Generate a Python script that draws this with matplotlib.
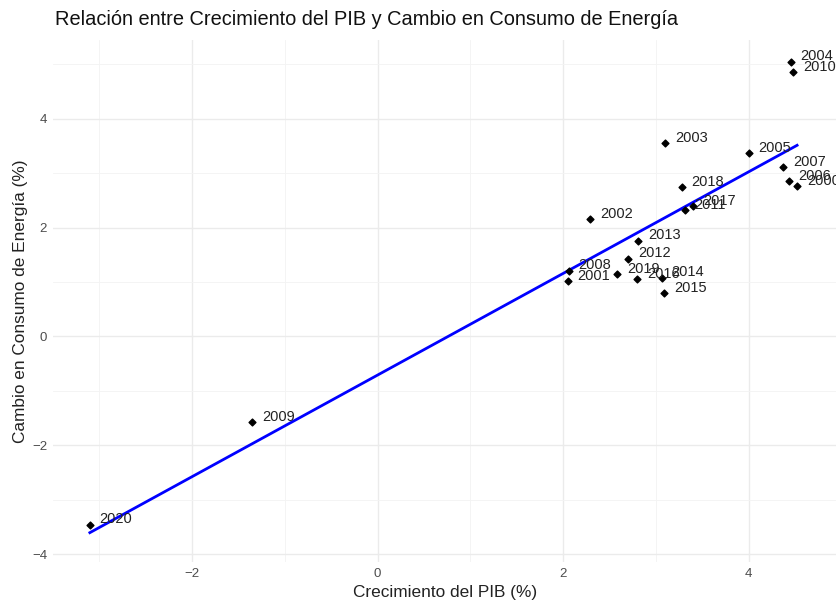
import numpy as np
import matplotlib

matplotlib.use("Agg")
import matplotlib.pyplot as plt
from matplotlib.ticker import MultipleLocator

# datos
years = ["2000", "2001", "2002", "2003", "2004", "2005", "2006", "2007",
         "2008", "2009", "2010", "2011", "2012", "2013", "2014", "2015",
         "2016", "2017", "2018", "2019", "2020"]
pib = [4.52, 2.05, 2.29, 3.10, 4.45, 4.00, 4.43, 4.37,
       2.06, -1.35, 4.48, 3.31, 2.70, 2.81, 3.06, 3.09,
       2.80, 3.40, 3.28, 2.58, -3.10]
energia = [2.76, 1.01, 2.15, 3.55, 5.04, 3.36, 2.85, 3.11,
           1.21, -1.58, 4.85, 2.32, 1.43, 1.76, 1.08, 0.79,
           1.05, 2.39, 2.74, 1.14, -3.46]

plt.rcParams["font.family"] = ["Liberation Sans", "DejaVu Sans"]

fig = plt.figure(figsize=(8.37, 6.02), dpi=100)
ax = fig.add_axes([0.063, 0.066, 0.937, 0.868])

x = np.array(pib)
y = np.array(energia)

# linea de regresion (lm)
m, b = np.polyfit(x, y, 1)
xs = np.array([x.min(), x.max()])
ax.plot(xs, m * xs + b, color="#0000FF", lw=2.0, zorder=2)

ax.scatter(x, y, marker="D", s=12, color="black", zorder=3)
for xi, yi, lab in zip(x, y, years):
    ax.annotate(lab, (xi, yi), xytext=(7, 4), textcoords="offset points",
                fontsize=10.5, color="#222222", va="center", ha="left",
                annotation_clip=False, zorder=4)

ax.set_xlim(-3.5, 4.95)
ax.set_ylim(-4.15, 5.45)
ax.xaxis.set_major_locator(MultipleLocator(2))
ax.xaxis.set_minor_locator(MultipleLocator(1))
ax.yaxis.set_major_locator(MultipleLocator(2))
ax.yaxis.set_minor_locator(MultipleLocator(1))

ax.grid(True, which="major", color="#ebebeb", lw=1.0)
ax.grid(True, which="minor", color="#f3f3f3", lw=0.6)
ax.set_axisbelow(True)
for s in ax.spines.values():
    s.set_visible(False)
ax.tick_params(which="both", length=0, labelsize=9.5, labelcolor="#4d4d4d", pad=4)

ax.set_xlabel("Crecimiento del PIB (%)", fontsize=12.4, color="#222222", labelpad=4)
ax.set_ylabel("Cambio en Consumo de Energía (%)", fontsize=12.4, color="#222222", labelpad=3)
fig.text(0.066, 0.968, "Relación entre Crecimiento del PIB y Cambio en Consumo de Energía",
         fontsize=14.4, color="#111111", ha="left", va="center")

fig.savefig("out.png", dpi=100)
